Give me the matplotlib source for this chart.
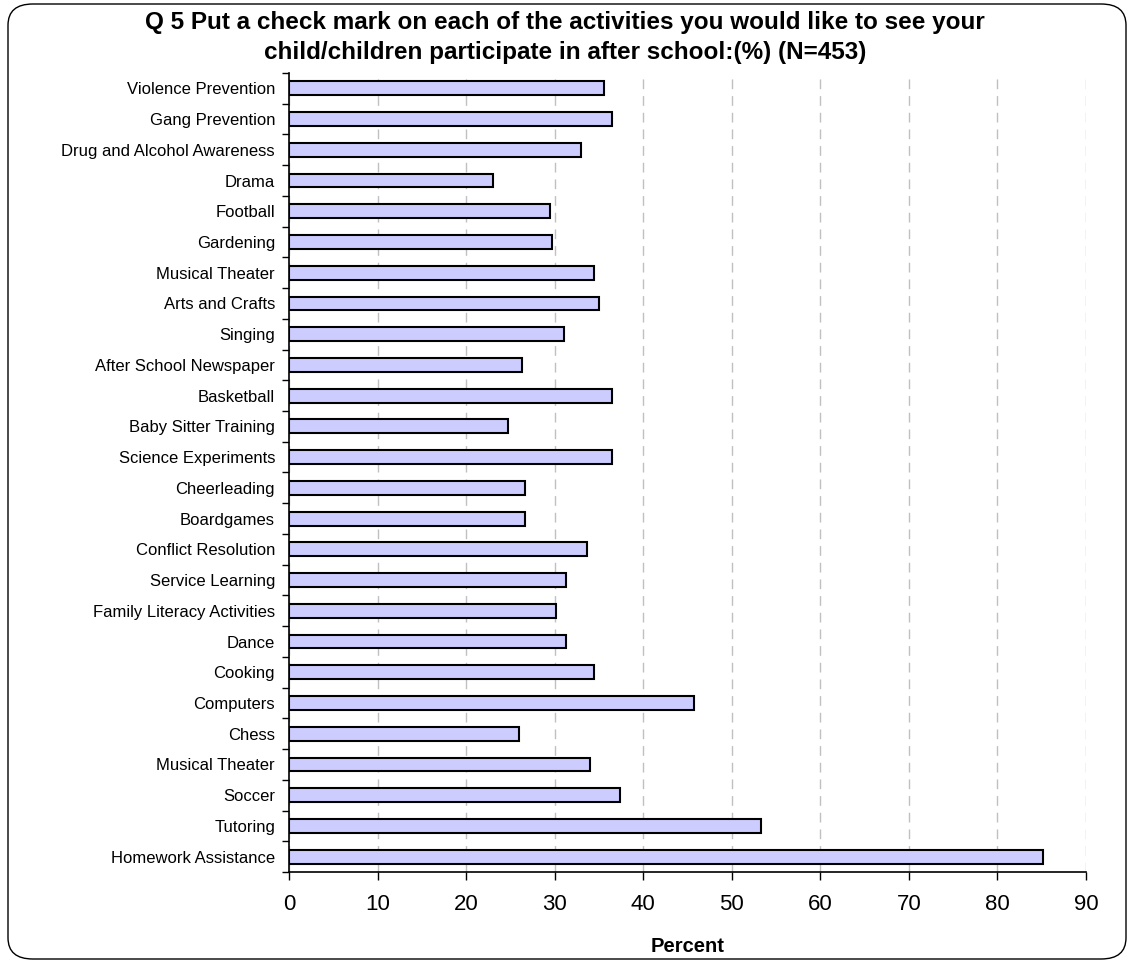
import numpy as np
import matplotlib.pyplot as plt
from matplotlib.patches import FancyBboxPatch

plt.rcParams["font.family"] = ["Liberation Sans", "DejaVu Sans"]

# categories top to bottom, as in the chart
activities = [
    "Violence Prevention", "Gang Prevention", "Drug and Alcohol Awareness",
    "Drama", "Football", "Gardening", "Musical Theater", "Arts and Crafts",
    "Singing", "After School Newspaper", "Basketball", "Baby Sitter Training",
    "Science Experiments", "Cheerleading", "Boardgames", "Conflict Resolution",
    "Service Learning", "Family Literacy Activities", "Dance", "Cooking",
    "Computers", "Chess", "Musical Theater", "Soccer", "Tutoring",
    "Homework Assistance",
]
percent = [
    35.6, 36.5, 33.0, 23.0, 29.5, 29.7, 34.4, 35.0, 31.0, 26.3, 36.5, 24.7,
    36.5, 26.7, 26.7, 33.6, 31.3, 30.1, 31.3, 34.4, 45.7, 26.0, 34.0, 37.4,
    53.3, 85.2,
]
xticks = list(range(0, 100, 10))

fig = plt.figure(figsize=(11.3, 9.63), dpi=100)
ax = fig.add_axes([289 / 1130, 1 - 872 / 963, (1086 - 289) / 1130, (872 - 73) / 963])

# rounded outer frame
frame = FancyBboxPatch((8 / 1130, 4 / 963), 1118 / 1130, 955 / 963,
                       boxstyle="round,pad=0,rounding_size=0.022",
                       transform=fig.transFigure, fill=False,
                       edgecolor="black", lw=1.0, zorder=0)
fig.patches.append(frame)

y = np.arange(len(activities))
ax.barh(y, percent, height=0.45, color="#CCCCFF", edgecolor="black",
        linewidth=1.5, zorder=3)

ax.set_xlim(0, 90)
ax.set_ylim(len(activities) - 0.5, -0.5)
ax.set_xticks(xticks)
ax.set_xticklabels([str(t) for t in xticks], fontsize=16)
ax.set_yticks(y)
ax.set_yticklabels(activities, fontsize=12)
ax.tick_params(axis="y", which="major", length=0, pad=10)
ax.set_yticks(np.arange(len(activities) + 1) - 0.5, minor=True)
ax.tick_params(axis="y", which="minor", length=5, width=1)
ax.tick_params(axis="x", length=6, width=1, pad=10)

ax.grid(axis="x", color="#C0C0C0", linestyle=(0, (7, 5)), linewidth=1, zorder=0)
for s in ["top", "right"]:
    ax.spines[s].set_visible(False)
ax.spines["left"].set_linewidth(1.2)
ax.spines["bottom"].set_linewidth(1.2)

ax.set_xlabel("Percent", fontsize=14.5, fontweight="bold", labelpad=16)
fig.text(0.5, 1 - 22 / 963,
         "Q 5 Put a check mark on each of the activities you would like to see your",
         ha="center", va="center", fontsize=17.5, fontweight="bold")
fig.text(0.5, 1 - 52 / 963,
         "child/children participate in after school:(%) (N=453)",
         ha="center", va="center", fontsize=17.5, fontweight="bold")

fig.savefig("out.png", dpi=100)
